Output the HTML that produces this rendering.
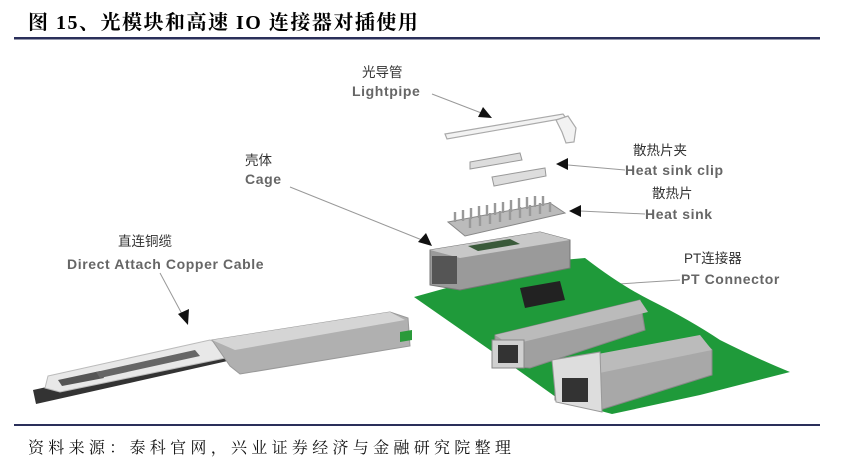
<!DOCTYPE html>
<html><head><meta charset="utf-8"><style>
html,body{margin:0;padding:0;background:#fff;width:842px;height:471px;overflow:hidden}
svg{display:block}
.t{font-family:"Liberation Serif","Noto Serif CJK SC",serif;font-weight:bold;font-size:20px;letter-spacing:1.5px;fill:#000}
.f{font-family:"Liberation Serif","Noto Serif CJK SC",serif;font-size:16px;letter-spacing:4.3px;fill:#111}
.cn{font-family:"Liberation Sans","Noto Sans CJK SC",sans-serif;font-size:13.5px;fill:#333}
.en{font-family:"Liberation Sans",sans-serif;font-size:14px;letter-spacing:0.6px;font-weight:bold;fill:#666}
</style></head><body>
<svg width="842" height="471" viewBox="0 0 842 471">
<text class="t" x="28" y="29">图 15、光模块和高速 IO 连接器对插使用</text>
<rect x="14" y="37" width="806" height="2.5" fill="#2a2f5a"/>
<rect x="14" y="424" width="806" height="2" fill="#2a2f5a"/>
<text class="f" x="28" y="453">资料来源：泰科官网，兴业证券经济与金融研究院整理</text>

<text class="cn" x="362" y="77">光导管</text>
<text class="en" x="352" y="96">Lightpipe</text>
<text class="cn" x="633" y="155">散热片夹</text>
<text class="en" x="625" y="175">Heat sink clip</text>
<text class="cn" x="652" y="198">散热片</text>
<text class="en" x="645" y="219">Heat sink</text>
<text class="cn" x="245" y="165">壳体</text>
<text class="en" x="245" y="184">Cage</text>
<text class="cn" x="118" y="246">直连铜缆</text>
<text class="en" x="67" y="269">Direct Attach Copper Cable</text>
<text class="cn" x="684" y="263">PT连接器</text>
<text class="en" x="681" y="284">PT Connector</text>

<g stroke="#999" stroke-width="1" fill="none">
<line x1="432" y1="94" x2="484" y2="114"/>
<line x1="290" y1="187" x2="422" y2="240"/>
<line x1="160" y1="273" x2="182" y2="314"/>
<line x1="625" y1="170" x2="568" y2="165"/>
<line x1="645" y1="214" x2="580" y2="211"/>
<line x1="680" y1="280" x2="572" y2="287"/>
</g>
<g fill="#111">
<polygon points="492,118 478,117 483,107"/>
<polygon points="432,246 418,242 426,233"/>
<polygon points="188,325 178,314 189,309"/>
<polygon points="556,164 568,158 568,170"/>
<polygon points="569,211 581,205 581,217"/>
<polygon points="565,288 577,282 578,294"/>
</g>

<g stroke="#aaa" stroke-width="1.2" fill="#f2f2f2">
<polygon points="445,134 563,114 566,118 447,139"/>
<polygon points="556,120 568,116 576,128 574,142 566,143 562,132"/>
</g>
<g stroke="#999" stroke-width="1" fill="#ddd">
<polygon points="470,162 520,153 522,160 470,169"/>
<polygon points="492,177 545,168 546,176 494,186"/>
</g>
<polygon points="448,222 550,203 565,213 465,236" fill="#bbb" stroke="#888"/>
<g stroke="#999" stroke-width="2.4">
<line x1="455" y1="222" x2="455" y2="212"/><line x1="463" y1="221" x2="463" y2="210"/>
<line x1="471" y1="219" x2="471" y2="208"/><line x1="479" y1="218" x2="479" y2="206"/>
<line x1="487" y1="216" x2="487" y2="205"/><line x1="495" y1="215" x2="495" y2="203"/>
<line x1="503" y1="213" x2="503" y2="202"/><line x1="511" y1="212" x2="511" y2="200"/>
<line x1="519" y1="210" x2="519" y2="198"/><line x1="527" y1="209" x2="527" y2="197"/>
<line x1="535" y1="207" x2="535" y2="196"/><line x1="543" y1="206" x2="543" y2="196"/>
<line x1="470" y1="228" x2="470" y2="218"/><line x1="480" y1="226" x2="480" y2="215"/>
<line x1="490" y1="224" x2="490" y2="213"/><line x1="500" y1="222" x2="500" y2="211"/>
<line x1="510" y1="220" x2="510" y2="209"/><line x1="520" y1="218" x2="520" y2="207"/>
<line x1="530" y1="216" x2="530" y2="205"/><line x1="540" y1="214" x2="540" y2="203"/>
<line x1="550" y1="212" x2="550" y2="202"/>
</g>

<path d="M414,297 L540,262 L585,258 Q620,285 650,300 Q690,320 720,340 Q760,360 790,372 L700,395 L612,414 L560,400 L490,350 Z" fill="#1f9a3a"/>
<polygon points="430,250 540,232 570,240 570,268 460,290 430,285" fill="#9a9a9a" stroke="#777"/>
<polygon points="430,250 540,232 570,240 460,258" fill="#c8c8c8"/>
<polygon points="468,246 510,239 520,244 478,251" fill="#3a5a3a"/>
<rect x="432" y="256" width="25" height="28" fill="#555"/>
<polygon points="520,288 560,281 565,300 525,308" fill="#222"/>
<polygon points="495,335 640,300 645,330 530,368 495,365" fill="#a0a0a0" stroke="#888"/>
<polygon points="495,335 640,300 648,312 510,345" fill="#bbb"/>
<rect x="492" y="340" width="32" height="28" fill="#d0d0d0" stroke="#888"/>
<rect x="498" y="345" width="20" height="18" fill="#333"/>
<polygon points="555,368 700,338 712,350 712,375 600,410 555,400" fill="#a8a8a8" stroke="#888"/>
<polygon points="555,362 700,335 712,350 575,378" fill="#bbb"/>
<polygon points="552,360 600,352 602,412 556,402" fill="#ddd" stroke="#999"/>
<rect x="562" y="378" width="26" height="24" fill="#333"/>

<polygon points="33,390 225,348 232,360 36,404" fill="#333"/>
<polygon points="48,376 210,340 230,348 235,356 60,392 45,388" fill="#e8e8e8" stroke="#bbb"/>
<polygon points="58,380 100,371 104,378 62,386" fill="#555"/>
<polygon points="96,372 195,350 200,356 100,378" fill="#666"/>
<polygon points="212,340 390,312 408,318 410,346 240,374 230,366" fill="#b0b0b0" stroke="#999"/>
<polygon points="212,340 390,312 405,320 235,350" fill="#d5d5d5"/>
<polygon points="400,332 412,330 412,340 400,342" fill="#2a9a3a"/>
</svg>
</body></html>
